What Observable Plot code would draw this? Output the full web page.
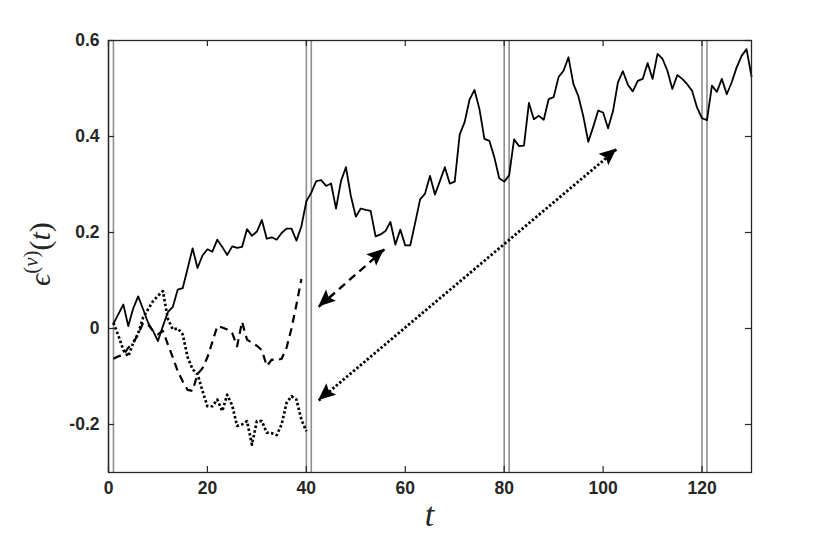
<!DOCTYPE html>
<html><head><meta charset="utf-8">
<script src="https://cdn.jsdelivr.net/npm/d3@7"></script>
<script src="https://cdn.jsdelivr.net/npm/@observablehq/plot@0.6"></script>
<style>body{margin:0;background:#fff}</style>
</head><body><div id="chart"></div>
<script>
// Solid series, t = 1..130
const solidValues = [
  0.010, 0.030, 0.050, 0.005, 0.042, 0.067, 0.040, 0.012, -0.005, -0.026,
  0.005, 0.034, 0.045, 0.081, 0.084, 0.125, 0.167, 0.126, 0.152, 0.165,
  0.160, 0.185, 0.170, 0.153, 0.171, 0.168, 0.170, 0.207, 0.193, 0.202,
  0.226, 0.187, 0.190, 0.185, 0.199, 0.208, 0.208, 0.183, 0.213, 0.265,
  0.283, 0.307, 0.309, 0.297, 0.302, 0.250, 0.307, 0.336, 0.276, 0.233,
  0.250, 0.247, 0.245, 0.192, 0.196, 0.203, 0.222, 0.175, 0.206, 0.173,
  0.173, 0.220, 0.269, 0.281, 0.318, 0.279, 0.307, 0.336, 0.302, 0.306,
  0.404, 0.430, 0.477, 0.497, 0.457, 0.395, 0.391, 0.357, 0.313, 0.306,
  0.319, 0.394, 0.380, 0.381, 0.470, 0.436, 0.443, 0.435, 0.478, 0.482,
  0.524, 0.537, 0.565, 0.509, 0.484, 0.442, 0.389, 0.420, 0.454, 0.450,
  0.417, 0.453, 0.513, 0.536, 0.508, 0.494, 0.516, 0.520, 0.553, 0.520,
  0.572, 0.562, 0.537, 0.499, 0.528, 0.520, 0.509, 0.495, 0.460, 0.438,
  0.434, 0.506, 0.493, 0.520, 0.488, 0.513, 0.544, 0.568, 0.582, 0.525
];
// Dashed series, t = 1..39
const dashedValues = [
  -0.063, -0.058, -0.055, -0.040, -0.030, -0.012, 0.012, 0.008, -0.005, -0.012,
  -0.005, -0.033, -0.060, -0.089, -0.110, -0.128, -0.130, -0.095, -0.083, -0.060,
  -0.028, 0.005, 0.002, -0.002, -0.009, -0.037, 0.014, -0.023, -0.030, -0.036,
  -0.045, -0.078, -0.065, -0.066, -0.063, -0.040, 0.000, 0.050, 0.103
];
// Dotted series, t = 1..40
const dottedValues = [
  0.012, -0.015, -0.045, -0.058, -0.030, -0.010, 0.023, 0.040, 0.057, 0.068,
  0.078, 0.020, -0.002, 0.000, -0.012, -0.060, -0.085, -0.095, -0.130, -0.162,
  -0.162, -0.148, -0.172, -0.138, -0.160, -0.203, -0.200, -0.193, -0.242, -0.193,
  -0.193, -0.217, -0.218, -0.222, -0.200, -0.155, -0.141, -0.148, -0.190, -0.214
];
const xTicks = [0, 20, 40, 60, 80, 100, 120];
const yTicks = [-0.2, 0, 0.2, 0.4, 0.6];
const markerTimes = [0, 1, 40, 41, 80, 81, 120, 121];
// double-headed arrows: [t1, v1, t2, v2]
const arrowDashed = [42.5, 0.045, 55.8, 0.165];
const arrowDotted = [42.5, -0.150, 102.8, 0.374];

const toRows = (vals) => vals.map((v, i) => ({t: i + 1, v}));
const solid = toRows(solidValues);
const dashed = toRows(dashedValues);
const dotted = toRows(dottedValues);
const arrows = [
  {x1: arrowDashed[0], y1: arrowDashed[1], x2: arrowDashed[2], y2: arrowDashed[3]},
  {x1: arrowDotted[0], y1: arrowDotted[1], x2: arrowDotted[2], y2: arrowDotted[3]}
];

const W = 830, H = 538, ML = 108, MR = 79, MT = 40, MB = 66;
const FH = H - MT - MB, FW = W - ML - MR, TL = 6;
const axisColor = "#262626";

function arrowHeads(index, scales, values, dims) {
  const g = d3.create("svg:g").attr("fill", "#000");
  for (const a of arrows) {
    const p1 = [scales.x(a.x1), scales.y(a.y1)], p2 = [scales.x(a.x2), scales.y(a.y2)];
    for (const [tip, from] of [[p1, p2], [p2, p1]]) {
      const dx = tip[0] - from[0], dy = tip[1] - from[1], L = Math.hypot(dx, dy);
      const ux = dx / L, uy = dy / L, len = 17, w = 7.5;
      const bx = tip[0] - ux * len, by = tip[1] - uy * len;
      const nx = tip[0] - ux * len * 0.82, ny = tip[1] - uy * len * 0.82;
      const pts = [tip, [bx - uy * w, by + ux * w], [nx, ny], [bx + uy * w, by - ux * w]];
      g.append("path").attr("d", "M" + pts.map(p => p.join(",")).join("L") + "Z");
    }
  }
  return g.node();
}

function labels(index, scales, values, dims) {
  const g = d3.create("svg:g")
    .attr("font-family", "'Liberation Serif', 'DejaVu Serif', serif")
    .attr("fill", axisColor);
  const cx = (dims.marginLeft + dims.width - dims.marginRight) / 2;
  const cy = (dims.marginTop + dims.height - dims.marginBottom) / 2;
  g.append("text").attr("x", cx).attr("y", dims.height - 12)
    .attr("text-anchor", "middle").attr("font-size", 34).attr("font-style", "italic").text("t");
  const yl = g.append("text")
    .attr("transform", `translate(50,${cy - 2}) rotate(-90)`)
    .attr("text-anchor", "middle").attr("font-size", 30);
  yl.append("tspan").attr("font-style", "italic").text("\u03F5");
  yl.append("tspan").attr("font-size", 21).attr("dy", -12).text("(");
  yl.append("tspan").attr("font-size", 21).attr("font-style", "italic").text("\u03BD");
  yl.append("tspan").attr("font-size", 21).text(")");
  yl.append("tspan").attr("dy", 12).text("(");
  yl.append("tspan").attr("font-style", "italic").text("t");
  yl.append("tspan").text(")");
  return g.node();
}

const plot = Plot.plot({
  width: W, height: H,
  marginLeft: ML, marginRight: MR, marginTop: MT, marginBottom: MB,
  x: {domain: [0, 130]},
  y: {domain: [-0.3, 0.6]},
  style: {fontFamily: "'Liberation Sans', Arial, sans-serif", background: "#fff", overflow: "visible"},
  marks: [
    Plot.ruleX(markerTimes, {stroke: "#8f8f8f", strokeWidth: 1.6}),
    Plot.lineY(solid, {x: "t", y: "v", stroke: "#000", strokeWidth: 1.8}),
    Plot.lineY(dashed, {x: "t", y: "v", stroke: "#000", strokeWidth: 2.2, strokeDasharray: "8,5.5", strokeLinecap: "butt"}),
    Plot.lineY(dotted, {x: "t", y: "v", stroke: "#000", strokeWidth: 2.7, strokeDasharray: "2.5,2.3", strokeLinecap: "butt"}),
    Plot.link(arrows.slice(0, 1), {x1: "x1", y1: "y1", x2: "x2", y2: "y2", stroke: "#000", strokeWidth: 2.4, strokeDasharray: "8,5.5", strokeLinecap: "butt"}),
    Plot.link(arrows.slice(1), {x1: "x1", y1: "y1", x2: "x2", y2: "y2", stroke: "#000", strokeWidth: 2.8, strokeDasharray: "2.4,2.1", strokeLinecap: "butt"}),
    arrowHeads,
    Plot.frame({stroke: axisColor, strokeWidth: 1.3}),
    Plot.ruleX(xTicks, {insetTop: FH - TL, stroke: axisColor, strokeWidth: 1.2}),
    Plot.ruleX(xTicks, {insetBottom: FH - TL, stroke: axisColor, strokeWidth: 1.2}),
    Plot.ruleY(yTicks, {insetRight: FW - TL, stroke: axisColor, strokeWidth: 1.2}),
    Plot.ruleY(yTicks, {insetLeft: FW - TL, stroke: axisColor, strokeWidth: 1.2}),
    Plot.axisX({ticks: xTicks, tickSize: 0, tickPadding: 9, label: null, fontSize: 17.5, fontWeight: "bold", fill: axisColor, tickFormat: d => String(d)}),
    Plot.axisY({ticks: yTicks, tickSize: 0, tickPadding: 9, label: null, fontSize: 17.5, fontWeight: "bold", fill: axisColor, tickFormat: d => d === 0 ? "0" : d.toFixed(1)}),
    labels
  ]
});
document.getElementById("chart").appendChild(plot);
</script>
</body></html>
